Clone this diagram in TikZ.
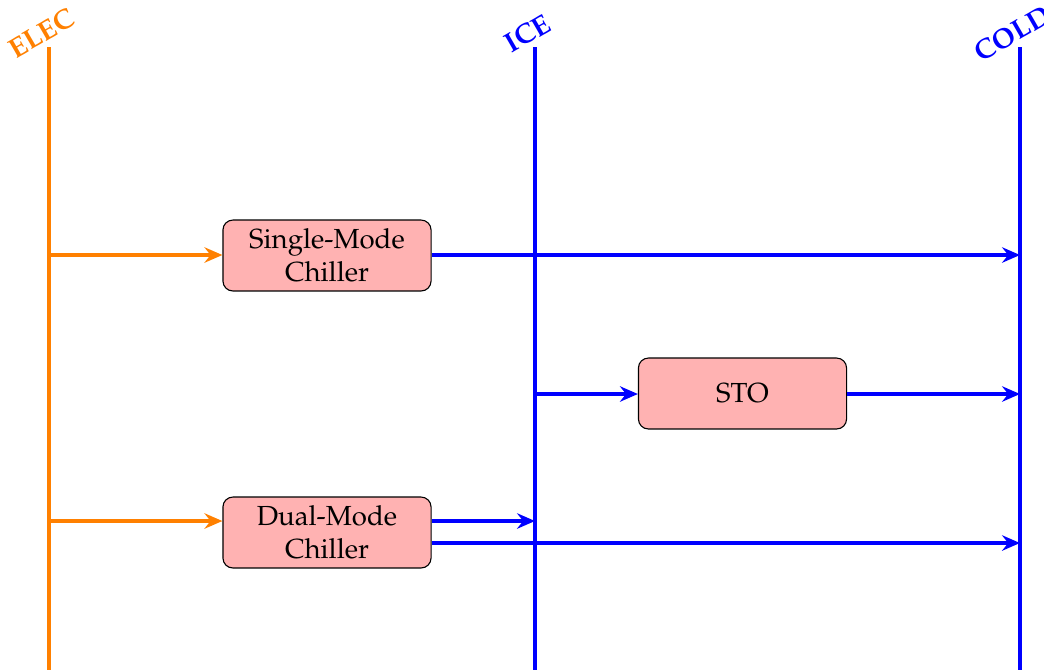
\documentclass[tikz,border=0pt]{standalone}
\usepackage[T1]{fontenc}
\usepackage{mathpazo}
\usetikzlibrary{arrows.meta}
\begin{document}
\begin{tikzpicture}[x=0.3623pt,y=-0.3623pt,
  bus/.style={line width=1.5pt},
  flow/.style={line width=1.5pt,-{Stealth[length=6.5pt,width=5.6pt,inset=2.2pt]}},
  unit/.style={draw=black,fill=red!30,rounded corners=3.6pt,minimum width=75.4pt,
    minimum height=25.7pt,align=center,inner sep=2pt},
  buslabel/.style={anchor=south,rotate=30,inner sep=2pt,font=\bfseries}]
\useasboundingbox (0,0) rectangle (1044,670);

% energy carriers (buses)
\coordinate (elecT) at (49,47);  \coordinate (elecB) at (49,670);
\coordinate (iceT)  at (535,47); \coordinate (iceB)  at (535,670);
\coordinate (coldT) at (1020,47);\coordinate (coldB) at (1020,670);
\draw[bus,orange] (elecT) -- (elecB);
\draw[bus,blue] (iceT) -- (iceB);
\draw[bus,blue] (coldT) -- (coldB);
\node[buslabel,text=orange] (elecL) at (elecT) {ELEC};
\node[buslabel,text=blue] (iceL) at (iceT) {ICE};
\node[buslabel,text=blue] (coldL) at (coldT) {COLD};

% conversion and storage units
\node[unit] (single) at (327,255.5) {Single-Mode\\Chiller};
\node[unit] (sto) at (742.5,393.5) {STO};
\node[unit] (dual) at (327,532.5) {Dual-Mode\\Chiller};

% tap points on the buses
\coordinate (elecS) at (49,255);
\coordinate (coldS) at (1020,255);
\coordinate (iceO) at (535,394);
\coordinate (coldO) at (1020,394);
\coordinate (elecD) at (49,521);
\coordinate (iceD) at (535,521);
\coordinate (coldD) at (1020,543);

% flows
\draw[flow,orange] (elecS) -- (single.west |- elecS);
\draw[flow,blue] (single.east |- coldS) -- (coldS);
\draw[flow,blue] (iceO) -- (sto.west |- iceO);
\draw[flow,blue] (sto.east |- coldO) -- (coldO);
\draw[flow,orange] (elecD) -- (dual.west |- elecD);
\draw[flow,blue] (dual.east |- iceD) -- (iceD);
\draw[flow,blue] (dual.east |- coldD) -- (coldD);
\end{tikzpicture}
\end{document}
